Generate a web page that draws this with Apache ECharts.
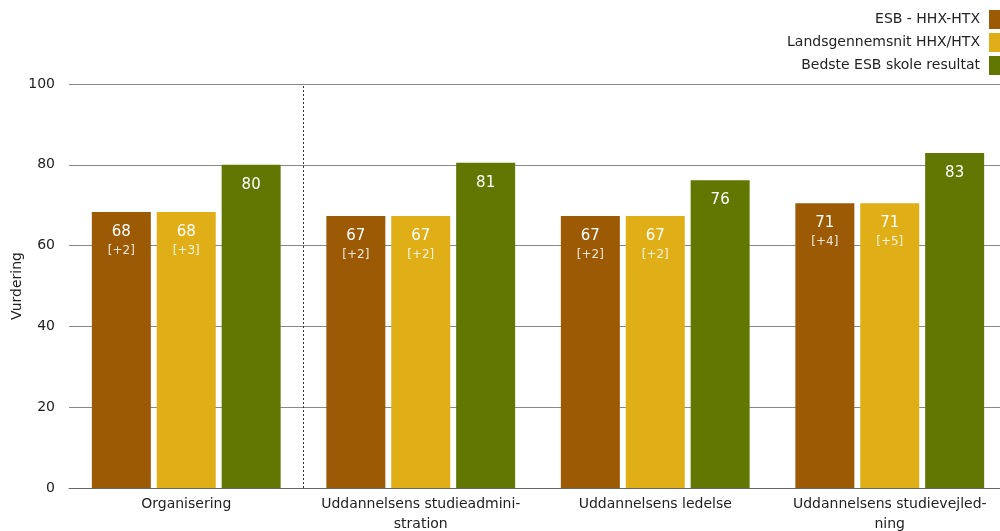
<!DOCTYPE html>
<html><head><meta charset="utf-8">
<script src="https://cdn.jsdelivr.net/npm/echarts@6/dist/echarts.min.js"></script>
<style>html,body{margin:0;padding:0;background:#fff}#c{width:1000px;height:531px}</style>
</head><body><div id="c"></div>
<script>
const categories = ['Organisering', 'Uddannelsens studieadmini-\nstration', 'Uddannelsens ledelse', 'Uddannelsens studievejled-\nning'];
const esb = [68.3, 67.3, 67.3, 70.5];
const esbChange = ['+2', '+2', '+2', '+4'];
const lands = [68.3, 67.3, 67.3, 70.5];
const landsChange = ['+3', '+2', '+2', '+5'];
const best = [80, 80.5, 76.2, 82.9];
const yTicks = [0, 20, 40, 60, 80, 100];
const separatorAfter = 1; // dotted separator after first category
const FONT = 'DejaVu Sans';

function lbl(changes) {
  return {
    show: true, position: 'insideTop', distance: 10,
    formatter: p => '{v|' + Math.round(p.value) + '}' + (changes ? '\n{c|[' + changes[p.dataIndex] + ']}' : ''),
    rich: {
      v: { color: '#fff', fontSize: 15, fontFamily: FONT, lineHeight: 20 },
      c: { color: 'rgba(255,255,255,0.85)', fontSize: 12, fontFamily: FONT, lineHeight: 18 }
    }
  };
}
const chart = echarts.init(document.getElementById('c'));
chart.setOption({
  animation: false,
  textStyle: { fontFamily: FONT },
  legend: {
    orient: 'vertical', right: -7, top: 5, align: 'right', icon: 'rect',
    itemWidth: 13, itemHeight: 19, itemGap: 4,
    textStyle: { fontSize: 14, color: '#222', fontFamily: FONT, padding: [0, 4, 0, 0] },
    data: ['ESB - HHX-HTX', 'Landsgennemsnit HHX/HTX', 'Bedste ESB skole resultat']
  },
  grid: { left: 69, width: 938, top: 84, height: 404, outerBoundsMode: 'none', containLabel: false },
  xAxis: [{
    type: 'category', data: categories,
    axisLine: { lineStyle: { color: '#666', width: 1 } },
    axisTick: { show: false },
    axisLabel: { fontSize: 14, color: '#222', fontFamily: FONT, lineHeight: 20, margin: 6, interval: 0 }
  }, {
    type: 'value', min: 0, max: categories.length, show: false
  }],
  yAxis: {
    type: 'value', min: 0, max: 100, interval: 20,
    name: 'Vurdering', nameLocation: 'middle', nameGap: 45, nameRotate: 90, nameMoveOverlap: false,
    nameTextStyle: { fontSize: 14, color: '#222', fontFamily: FONT },
    axisLine: { show: false },
    axisTick: { show: false },
    axisLabel: { fontSize: 14, color: '#222', fontFamily: FONT, margin: 14, formatter: v => yTicks.includes(v) ? String(v) : '' },
    splitLine: { lineStyle: { color: '#888', width: 1 } }
  },
  series: [
    { name: 'ESB - HHX-HTX', type: 'bar', data: esb, barWidth: 59, barGap: '10%', itemStyle: { color: '#9c5a05' }, label: lbl(esbChange) },
    { name: 'Landsgennemsnit HHX/HTX', type: 'bar', data: lands, barWidth: 59, barGap: '10%', itemStyle: { color: '#e0ae16' }, label: lbl(landsChange) },
    { name: 'Bedste ESB skole resultat', type: 'bar', data: best, barWidth: 59, barGap: '10%', itemStyle: { color: '#617702' }, label: lbl(null) },
    { name: 'sep', type: 'line', xAxisIndex: 1, data: [], silent: true,
      markLine: { silent: true, symbol: 'none', label: { show: false }, lineStyle: { color: '#333', type: [2, 2], width: 1 }, data: [{ xAxis: separatorAfter }] } }
  ]
});
</script></body></html>
